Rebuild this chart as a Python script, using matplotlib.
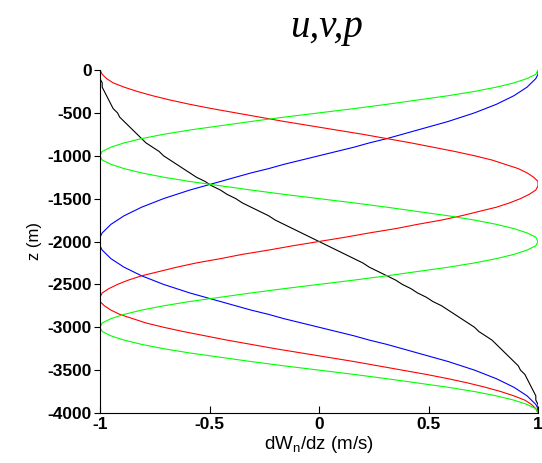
import numpy as np
import matplotlib
matplotlib.use("Agg")
import matplotlib.pyplot as plt

# depth grid (m), sampled every 50 m from surface to bottom
depth = np.arange(0, -4001, -50)

# vertical-velocity-derivative mode shapes
mode1 = [-1.00, -1.00, -1.00, -0.99, -0.99, -0.98, -0.97, -0.96, -0.95, -0.94,
         -0.92, -0.91, -0.89, -0.87, -0.85, -0.83, -0.81, -0.79, -0.76, -0.73,
         -0.71, -0.68, -0.65, -0.62, -0.59, -0.56, -0.52, -0.49, -0.45, -0.42,
         -0.38, -0.35, -0.31, -0.27, -0.23, -0.20, -0.16, -0.12, -0.08, -0.04,
         0.00, 0.04, 0.08, 0.12, 0.16, 0.20, 0.23, 0.27, 0.31, 0.35,
         0.38, 0.42, 0.45, 0.49, 0.52, 0.56, 0.59, 0.62, 0.65, 0.68,
         0.71, 0.73, 0.76, 0.79, 0.81, 0.83, 0.85, 0.87, 0.89, 0.91,
         0.92, 0.94, 0.95, 0.96, 0.97, 0.98, 0.99, 0.99, 1.00, 1.00, 1.00]

mode2 = [1.00, 1.00, 0.99, 0.97, 0.95, 0.92, 0.89, 0.85, 0.81, 0.76,
         0.71, 0.65, 0.59, 0.52, 0.45, 0.38, 0.31, 0.23, 0.16, 0.08,
         0.00, -0.08, -0.16, -0.23, -0.31, -0.38, -0.45, -0.52, -0.59, -0.65,
         -0.71, -0.76, -0.81, -0.85, -0.89, -0.92, -0.95, -0.97, -0.99, -1.00,
         -1.00, -1.00, -0.99, -0.97, -0.95, -0.92, -0.89, -0.85, -0.81, -0.76,
         -0.71, -0.65, -0.59, -0.52, -0.45, -0.38, -0.31, -0.23, -0.16, -0.08,
         0.00, 0.08, 0.16, 0.23, 0.31, 0.38, 0.45, 0.52, 0.59, 0.65,
         0.71, 0.76, 0.81, 0.85, 0.89, 0.92, 0.95, 0.97, 0.99, 1.00, 1.00]

mode3 = [-1.00, -0.99, -0.97, -0.94, -0.89, -0.83, -0.76, -0.68, -0.59, -0.49,
         -0.38, -0.27, -0.16, -0.04, 0.08, 0.20, 0.31, 0.42, 0.52, 0.62,
         0.71, 0.79, 0.85, 0.91, 0.95, 0.98, 1.00, 1.00, 0.99, 0.96,
         0.92, 0.87, 0.81, 0.73, 0.65, 0.56, 0.45, 0.35, 0.23, 0.12,
         0.00, -0.12, -0.23, -0.35, -0.45, -0.56, -0.65, -0.73, -0.81, -0.87,
         -0.92, -0.96, -0.99, -1.00, -1.00, -0.98, -0.95, -0.91, -0.85, -0.79,
         -0.71, -0.62, -0.52, -0.42, -0.31, -0.20, -0.08, 0.04, 0.16, 0.27,
         0.38, 0.49, 0.59, 0.68, 0.76, 0.83, 0.89, 0.94, 0.97, 0.99, 1.00]

mode4 = [1.00, 0.99, 0.95, 0.89, 0.81, 0.71, 0.59, 0.45, 0.31, 0.16,
         0.00, -0.16, -0.31, -0.45, -0.59, -0.71, -0.81, -0.89, -0.95, -0.99,
         -1.00, -0.99, -0.95, -0.89, -0.81, -0.71, -0.59, -0.45, -0.31, -0.16,
         0.00, 0.16, 0.31, 0.45, 0.59, 0.71, 0.81, 0.89, 0.95, 0.99,
         1.00, 0.99, 0.95, 0.89, 0.81, 0.71, 0.59, 0.45, 0.31, 0.16,
         0.00, -0.16, -0.31, -0.45, -0.59, -0.71, -0.81, -0.89, -0.95, -0.99,
         -1.00, -0.99, -0.95, -0.89, -0.81, -0.71, -0.59, -0.45, -0.31, -0.16,
         0.00, 0.16, 0.31, 0.45, 0.59, 0.71, 0.81, 0.89, 0.95, 0.99, 1.00]

xticks = [-1, -0.5, 0, 0.5, 1]
xtick_labels = ["-1", "-0.5", "0", "0.5", "1"]
yticks = [0, -500, -1000, -1500, -2000, -2500, -3000, -3500, -4000]

fig = plt.figure(figsize=(5.42, 4.63), dpi=100)
ax = fig.add_axes([100 / 542, 50 / 463, 438 / 542, 343 / 463])

ax.plot(mode1, depth, color="black", lw=0.8)
ax.plot(mode2, depth, color="blue", lw=0.8)
ax.plot(mode3, depth, color="red", lw=0.8)
ax.plot(mode4, depth, color="#00ff00", lw=0.8)

ax.set_xlim(-1, 1)
ax.set_ylim(-4000, 0)
ax.set_xticks(xticks)
ax.set_xticklabels(xtick_labels)
ax.set_yticks(yticks)
ax.set_yticklabels([str(v) for v in yticks])

for side in ["top", "right"]:
    ax.spines[side].set_visible(False)
for side in ["left", "bottom"]:
    ax.spines[side].set_linewidth(0.8)

ax.tick_params(axis="x", direction="in", length=5, width=0.8, pad=3)
ax.tick_params(axis="y", direction="out", length=4, width=0.8, pad=2)
for lab in ax.get_xticklabels() + ax.get_yticklabels():
    lab.set_fontfamily("Liberation Sans")
    lab.set_fontweight("bold")
    lab.set_fontsize(12.5)

ax.set_xlabel(r"dW$_\mathregular{n}$/dz (m/s)", fontfamily="Liberation Sans",
              fontsize=13.5, labelpad=1)
ax.set_ylabel("z (m)", fontfamily="Liberation Sans", fontsize=12, labelpad=4)

fig.text(327 / 542, 1 - 28 / 463, "u,v,p", family="Liberation Serif",
         style="italic", fontsize=28, ha="center", va="center")

fig.savefig("out.png", dpi=100)
